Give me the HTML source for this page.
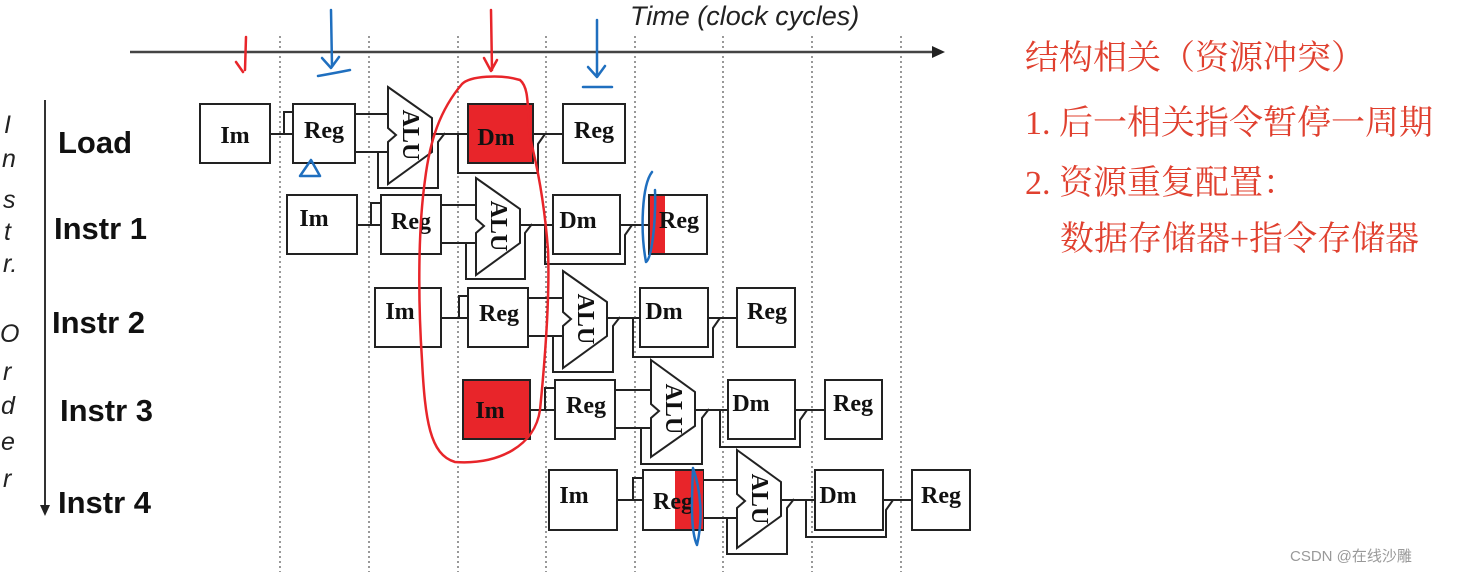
<!DOCTYPE html>
<html><head><meta charset="utf-8"><style>
body{margin:0;background:#fff;width:1457px;height:572px;overflow:hidden;}
svg{display:block}
.b{fill:#fff;stroke:#222;stroke-width:2}
.w{fill:none;stroke:#222;stroke-width:2}
.t{font-family:"Liberation Serif",serif;font-weight:bold;font-size:24px;fill:#111}
.l{font-family:"Liberation Sans",sans-serif;font-weight:bold;font-size:31px;fill:#111}
.v{font-family:"Liberation Sans",sans-serif;font-style:italic;font-size:25px;fill:#222}
.c{font-family:"Liberation Serif","Noto Serif CJK SC",serif;font-size:34px;fill:#e0402f}
.d{stroke:#555;stroke-width:1.2;stroke-dasharray:2,3}
.an{fill:none;stroke-width:2.5;stroke-linecap:round;stroke-linejoin:round}
</style></head><body>
<svg width="1457" height="572" viewBox="0 0 1457 572">
<g class="d">
<line x1="280" y1="36" x2="280" y2="572"/><line x1="369" y1="36" x2="369" y2="572"/>
<line x1="458" y1="36" x2="458" y2="572"/><line x1="546" y1="36" x2="546" y2="572"/>
<line x1="635" y1="36" x2="635" y2="572"/><line x1="723" y1="36" x2="723" y2="572"/>
<line x1="812" y1="36" x2="812" y2="572"/><line x1="901" y1="36" x2="901" y2="572"/>
</g>
<line x1="130" y1="52" x2="935" y2="52" stroke="#444" stroke-width="2.5"/>
<polygon points="945,52 932,46 932,58" fill="#222"/>
<text x="630" y="25" font-family="Liberation Sans,sans-serif" font-style="italic" font-size="27" fill="#222">Time (clock cycles)</text>

<line x1="45" y1="100" x2="45" y2="508" stroke="#333" stroke-width="2"/>
<polygon points="45,516 40,505 50,505" fill="#222"/>
<g class="v">
<text x="4" y="133">I</text><text x="2" y="167">n</text><text x="3" y="208">s</text><text x="4" y="240">t</text><text x="3" y="272">r.</text>
<text x="0" y="342">O</text><text x="3" y="380">r</text><text x="1" y="414">d</text><text x="1" y="450">e</text><text x="3" y="487">r</text>
</g>
<text class="l" x="58" y="153">Load</text>
<text class="l" x="54" y="239">Instr 1</text>
<text class="l" x="52" y="333">Instr 2</text>
<text class="l" x="60" y="421">Instr 3</text>
<text class="l" x="58" y="513">Instr 4</text>

<g transform="translate(200,104)">
<rect class="b" x="0" y="0" width="70" height="59"/><text class="t" x="35" y="39" text-anchor="middle">Im</text>
<path class="w" d="M70,30H93M84,30V8H93"/>
<rect class="b" x="93" y="0" width="62" height="59"/><text class="t" x="124" y="34" text-anchor="middle">Reg</text>
<path class="w" d="M155,10H188M155,48H188M178,48V84H238V38L245,29"/>
<polygon class="b" points="188,-17 232,14 232,48 188,80 188,38 196,31 188,24"/>
<text class="t" transform="translate(203,31) rotate(90)" text-anchor="middle">ALU</text>
<path class="w" d="M232,30H268M258,30V69H338V40L345,30M333,30H363"/>
<rect x="268" y="0" width="65" height="59" fill="#e8252a" stroke="#222" stroke-width="2"/><text class="t" x="296" y="41" text-anchor="middle">Dm</text>
<rect class="b" x="363" y="0" width="62" height="59"/><text class="t" x="394" y="34" text-anchor="middle">Reg</text>
</g>
<g transform="translate(287,195)">
<rect class="b" x="0" y="0" width="70" height="59"/><text class="t" x="27" y="31" text-anchor="middle">Im</text>
<path class="w" d="M70,30H94M84,30V8H94"/>
<rect class="b" x="94" y="0" width="60" height="59"/><text class="t" x="124" y="34" text-anchor="middle">Reg</text>
<path class="w" d="M154,10H189M154,48H189M179,48V84H238V38L245,29"/>
<polygon class="b" points="189,-17 233,14 233,48 189,80 189,38 197,31 189,24"/>
<text class="t" transform="translate(204,31) rotate(90)" text-anchor="middle">ALU</text>
<path class="w" d="M233,30H266M258,30V69H338V40L345,30M333,30H362"/>
<rect class="b" x="266" y="0" width="67" height="59"/><text class="t" x="291" y="33" text-anchor="middle">Dm</text>
<rect class="b" x="362" y="0" width="58" height="59"/><rect x="363" y="1" width="15" height="57" fill="#e8252a"/><text class="t" x="392" y="33" text-anchor="middle">Reg</text>
</g>
<g transform="translate(375,288)">
<rect class="b" x="0" y="0" width="66" height="59"/><text class="t" x="25" y="31" text-anchor="middle">Im</text>
<path class="w" d="M66,30H93M84,30V8H93"/>
<rect class="b" x="93" y="0" width="60" height="59"/><text class="t" x="124" y="33" text-anchor="middle">Reg</text>
<path class="w" d="M153,10H188M153,48H188M178,48V84H238V38L245,29"/>
<polygon class="b" points="188,-17 232,14 232,48 188,80 188,38 196,31 188,24"/>
<text class="t" transform="translate(203,31) rotate(90)" text-anchor="middle">ALU</text>
<path class="w" d="M232,30H265M258,30V69H338V40L345,30M333,30H362"/>
<rect class="b" x="265" y="0" width="68" height="59"/><text class="t" x="289" y="31" text-anchor="middle">Dm</text>
<rect class="b" x="362" y="0" width="58" height="59"/><text class="t" x="392" y="31" text-anchor="middle">Reg</text>
</g>
<g transform="translate(463,380)">
<rect x="0" y="0" width="67" height="59" fill="#e8252a" stroke="#222" stroke-width="2"/><text class="t" x="27" y="38" text-anchor="middle">Im</text>
<path class="w" d="M67,30H92M82,30V8H92"/>
<rect class="b" x="92" y="0" width="60" height="59"/><text class="t" x="123" y="33" text-anchor="middle">Reg</text>
<path class="w" d="M152,10H188M152,48H188M178,48V84H239V38L246,29"/>
<polygon class="b" points="188,-20 232,12 232,46 188,77 188,38 196,31 188,24"/>
<text class="t" transform="translate(203,29) rotate(90)" text-anchor="middle">ALU</text>
<path class="w" d="M232,30H265M257,30V67H337V40L344,30M332,30H362"/>
<rect class="b" x="265" y="0" width="67" height="59"/><text class="t" x="288" y="31" text-anchor="middle">Dm</text>
<rect class="b" x="362" y="0" width="57" height="59"/><text class="t" x="390" y="31" text-anchor="middle">Reg</text>
</g>
<g transform="translate(549,470)">
<rect class="b" x="0" y="0" width="68" height="60"/><text class="t" x="25" y="33" text-anchor="middle">Im</text>
<path class="w" d="M68,30H94M84,30V8H94"/>
<rect class="b" x="94" y="0" width="60" height="60"/><rect x="126" y="1" width="28" height="58" fill="#e8252a"/><text class="t" x="124" y="39" text-anchor="middle">Reg</text>
<path class="w" d="M154,10H188M154,48H188M178,48V84H238V38L245,29"/>
<polygon class="b" points="188,-20 232,12 232,46 188,78 188,38 196,31 188,24"/>
<text class="t" transform="translate(203,29) rotate(90)" text-anchor="middle">ALU</text>
<path class="w" d="M232,30H266M257,30V67H337V40L344,30M334,30H363"/>
<rect class="b" x="266" y="0" width="68" height="60"/><text class="t" x="289" y="33" text-anchor="middle">Dm</text>
<rect class="b" x="363" y="0" width="58" height="60"/><text class="t" x="392" y="33" text-anchor="middle">Reg</text>
</g>

<g class="an" stroke="#e8252a">
<path d="M246,37 L245,70 M236,62 L243,72"/>
<path d="M491,10 L492,70 M484,58 L491,71 L497,60"/>
<path d="M462,84 C470,76 500,74 520,80 C532,90 525,120 533,150 C540,180 545,210 548,250 C550,300 545,360 540,410 C535,445 500,465 455,462 C430,455 425,420 422,360 C418,300 418,230 425,180 C430,140 440,110 462,84"/>
</g>
<g class="an" stroke="#1f6fbf">
<path d="M331,10 L332,66 M322,58 L331,68 L339,57 M318,76 Q335,73 350,70"/>
<path d="M597,20 L597,75 M588,67 L597,77 L605,66 M583,87 L612,87"/>
<path d="M300,176 L311,160 L320,176 Z"/>
<path d="M652,172 C642,185 640,230 646,262 C652,258 656,220 655,190"/>
<path d="M693,468 C701,490 703,520 697,545 C690,530 692,495 693,468"/>
</g>

<text class="c" x="1025" y="69">结构相关（资源冲突）</text>
<text class="c" x="1025" y="134">1. 后一相关指令暂停一周期</text>
<text class="c" x="1025" y="194">2. 资源重复配置：</text>
<text class="c" x="1060" y="250">数据存储器+指令存储器</text>
<text x="1290" y="561" font-family="Liberation Sans,'Noto Sans CJK SC',sans-serif" font-size="15" fill="#999">CSDN @在线沙雕</text>
</svg>
</body></html>
